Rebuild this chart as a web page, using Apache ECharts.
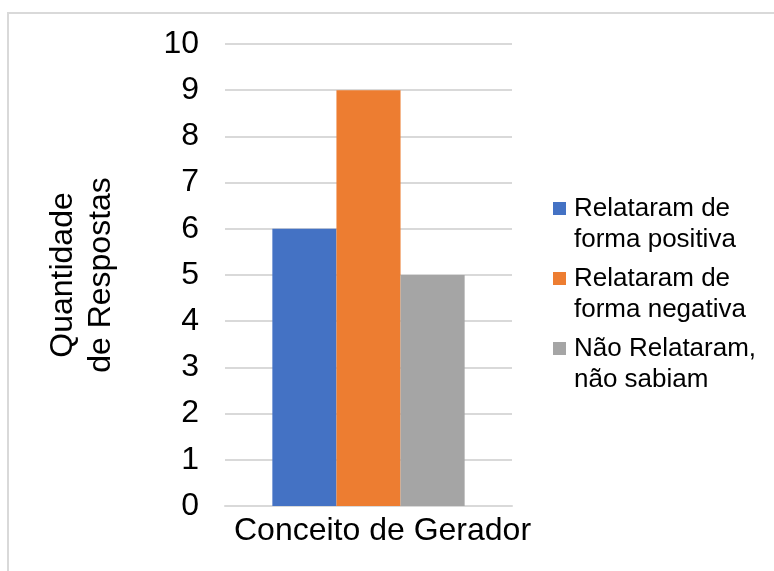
<!DOCTYPE html>
<html>
<head>
<meta charset="utf-8">
<script src="https://cdn.jsdelivr.net/npm/echarts@6/dist/echarts.min.js"></script>
<style>
  html, body { margin: 0; padding: 0; background: #fff; }
  .wrap { position: relative; width: 774px; height: 571px; overflow: hidden; }
  .frame { position: absolute; left: 7px; top: 12px; width: 800px; height: 600px;
           border: 2px solid #d9d9d9; box-sizing: border-box; }
  #chart { position: absolute; left: 0; top: 0; width: 774px; height: 571px; }
</style>
</head>
<body>
<div class="wrap">
  <div class="frame"></div>
  <div id="chart"></div>
</div>
<script>
// data
const categories = ["Conceito de Gerador"];
const seriesNames = ["Relataram de\nforma positiva", "Relataram de\nforma negativa", "Não Relataram,\nnão sabiam"];
const seriesValues = [[6], [9], [5]];
const colors = ["#4472c4", "#ed7d31", "#a5a5a5"];

const chart = echarts.init(document.getElementById("chart"));
const font = "Liberation Sans, Arial, sans-serif";

chart.setOption({
  animation: false,
  textStyle: { fontFamily: font },
  grid: { left: 225, right: 262, top: 44, bottom: 65 },
  legend: {
    orient: "vertical",
    left: 553,
    top: 193,
    padding: 0,
    itemGap: 8,
    itemWidth: 13,
    itemHeight: 44,
    // square at the top, tiny speck at the bottom so it lines up with line 1
    icon: "path://M0,0h13v13h-13z M0,43.9h0.1v0.1h-0.1z",
    textStyle: { fontSize: 26, lineHeight: 31, color: "#000", fontFamily: font, padding: [0, 0, 0, 3] },
    data: seriesNames
  },
  xAxis: {
    type: "category",
    data: categories,
    axisTick: { show: false },
    axisLine: { lineStyle: { color: "#d9d9d9", width: 2 } },
    axisLabel: { fontSize: 32, color: "#000", margin: 9, padding: [0, 0, 0, 28] }
  },
  yAxis: {
    type: "value",
    min: 0,
    max: 10,
    interval: 1,
    name: "Quantidade\nde Respostas",
    nameLocation: "middle",
    nameRotate: 90,
    nameGap: 105,
    nameTextStyle: { fontSize: 32, lineHeight: 38, color: "#000" },
    axisLine: { show: false },
    axisTick: { show: false },
    axisLabel: { fontSize: 32, color: "#000", margin: 26 },
    splitLine: { lineStyle: { color: "#d9d9d9", width: 2 } }
  },
  series: seriesNames.map((name, i) => ({
    name: name,
    type: "bar",
    data: seriesValues[i],
    barGap: "0%",
    barCategoryGap: "33%",
    itemStyle: { color: colors[i] }
  }))
});
</script>
</body>
</html>
